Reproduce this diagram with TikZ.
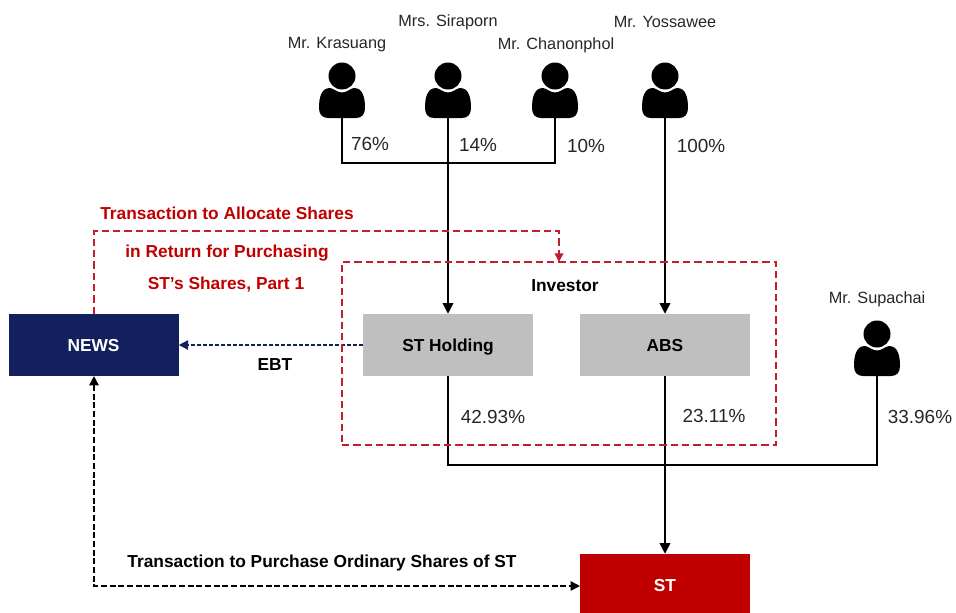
\documentclass[tikz,border=0pt]{standalone}
\usepackage{fontspec}
\setmainfont{Liberation Sans}
\usetikzlibrary{arrows.meta}
\definecolor{newsblue}{HTML}{12205E}
\definecolor{boxgray}{HTML}{BFBFBF}
\definecolor{stred}{HTML}{C00000}
\definecolor{dashred}{HTML}{C0202A}
\tikzset{
  x=0.75pt,y=-0.75pt,
  box/.style={rectangle,inner sep=0pt,minimum width=127.5pt,minimum height=46.5pt,text height=9.4pt,text depth=0pt,font=\fontsize{13}{15}\selectfont\bfseries},
  personbox/.style={rectangle,inner sep=0pt,minimum width=34.5pt,minimum height=42pt},
  personname/.style={font=\fontsize{12.2}{14}\selectfont,text=black!85,inner sep=0pt},
  pct/.style={font=\fontsize{14.2}{16}\selectfont,text=black!85,inner sep=0pt},
  boldlabel/.style={font=\fontsize{13}{15}\selectfont\bfseries,inner sep=0pt},
  redlabel/.style={boldlabel,text=stred},
  link/.style={line width=1.1pt,black},
  linkarrow/.style={link,-{Triangle[length=8pt,width=8pt]}},
  reddash/.style={line width=0.95pt,draw=dashred,dash pattern=on 5.5pt off 3pt},
  bluedash/.style={line width=0.95pt,newsblue,dash pattern=on 3pt off 1.5pt},
  blackdash/.style={line width=1.2pt,black,dash pattern=on 4.5pt off 2pt},
  pics/person/.style={code={
    \fill[black] (0,-14) circle[radius=13.5];
    \fill[black] (-12,-2) .. controls (-8,-1.5) and (-5,2.5) .. (0,2.5)
      .. controls (5,2.5) and (8,-1.5) .. (12,-2)
      .. controls (21,-2) and (23,8) .. (23,18)
      .. controls (23,24) and (20,28) .. (14,28)
      -- (-14,28)
      .. controls (-20,28) and (-23,24) .. (-23,18)
      .. controls (-23,8) and (-21,-2) .. (-12,-2) -- cycle;
  }}
}
\begin{document}
\begin{tikzpicture}
\useasboundingbox (0,0) rectangle (956,612);
\clip (0,0) rectangle (956,612);

% people
\foreach \nm/\px/\py in {krasuang/342/90,siraporn/448/90,chanonphol/555/90,yossawee/665/90,supachai/877/348}{
  \node[personbox] (\nm) at (\px,\py) {};
  \pic at (\px,\py) {person};
}
\node[personname] (nkra) at (337,45) {Mr. Krasuang};
\node[personname] (nsir) at (448,22) {Mrs. Siraporn};
\node[personname] (ncha) at (556,45) {Mr. Chanonphol};
\node[personname] (nyos) at (665,22) {Mr. Yossawee};
\node[personname] (nsup) at (877,299) {Mr. Supachai};

% boxes
\node[box,fill=newsblue,text=white] (news) at (93.5,345) {NEWS};
\node[box,fill=boxgray] (sth) at (448,345) {ST Holding};
\node[box,fill=boxgray] (abs) at (665,345) {ABS};
\node[box,fill=stred,text=white] (st) at (665,585) {ST};

% coordinates
\coordinate (jtop) at (448,163);
\coordinate (jbot) at (665,465);
\coordinate (jleft) at (448,465);
\coordinate (corner1) at (94,231);
\coordinate (corner2) at (559,231);
\coordinate (newsS) at (94,376);
\coordinate (newsN) at (94,314);
\coordinate (stW) at (580,586);
\coordinate (corner3) at (94,586);
\coordinate (invTop) at (559,262);

% solid links
\draw[link] (krasuang.south) |- (jtop) -| (chanonphol.south);
\draw[linkarrow] (siraporn.south) -- (sth.north);
\draw[linkarrow] (yossawee.south) -- (abs.north);
\draw[link] (sth.south) -- (jleft) -- (jbot) -| (supachai.south);
\draw[linkarrow] (abs.south) -- (st.north);

% dashed links
\draw[reddash,dashred,-{Triangle[length=6.5pt,width=6.5pt]}] (newsN) -- (corner1) -- (corner2) -- (invTop);
\draw[bluedash,-{Triangle[length=7pt,width=7pt]}] (sth.west) -- (news.east);
\draw[blackdash,{Triangle[length=7pt,width=7pt]}-{Triangle[length=7pt,width=7pt]}] (newsS) -- (corner3) -- (stW);

% investor frame
\node[reddash,rectangle,inner sep=0pt,minimum width=325.5pt,minimum height=137.25pt] (investor) at (559,353.5) {};

% labels
\node[pct] at (370,144) {76\%};
\node[pct] at (478,145) {14\%};
\node[pct] at (586,146) {10\%};
\node[pct] at (701,146) {100\%};
\node[pct] at (493,417) {42.93\%};
\node[pct] at (714,416) {23.11\%};
\node[pct] at (920,417) {33.96\%};
\node[boldlabel] at (275,365) {EBT};
\node[boldlabel] at (565,286) {Investor};
\node[redlabel] at (227,213) {Transaction to Allocate Shares};
\node[redlabel] at (227,253) {in Return for Purchasing};
\node[redlabel] at (226,285) {ST’s Shares, Part 1};
\node[boldlabel] at (322,563) {Transaction to Purchase Ordinary Shares of ST};
\end{tikzpicture}
\end{document}
